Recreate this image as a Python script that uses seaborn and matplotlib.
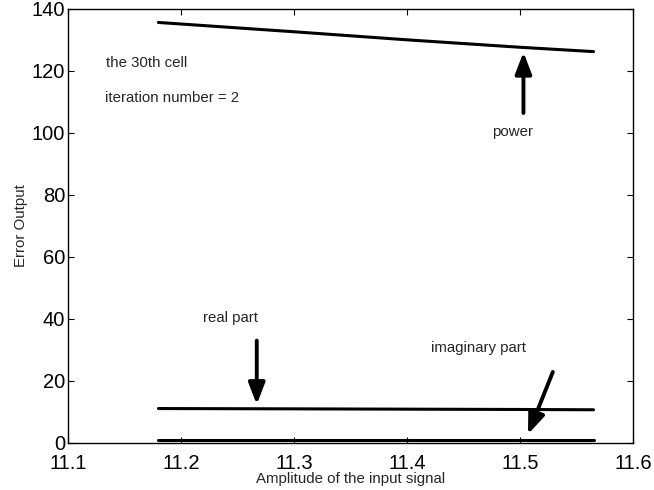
import matplotlib
matplotlib.use("Agg")
import matplotlib.pyplot as plt
import seaborn as sns
import pandas as pd

# data
power_x = [11.18, 11.30, 11.40, 11.50, 11.565]
power_y = [135.6, 132.6, 130.0, 127.6, 126.2]
real_x = [11.18, 11.30, 11.40, 11.50, 11.565]
real_y = [11.1, 11.0, 10.9, 10.8, 10.7]
imag_x = [11.18, 11.30, 11.40, 11.50, 11.565]
imag_y = [1.1, 1.1, 1.1, 1.1, 1.1]

x_ticks = [11.1, 11.2, 11.3, 11.4, 11.5, 11.6]
y_ticks = [0, 20, 40, 60, 80, 100, 120, 140]

sns.set_theme(style="ticks")
plt.rcParams['font.family'] = ['Liberation Sans', 'DejaVu Sans']

fig = plt.figure(figsize=(6.54, 4.90), dpi=100)
ax = fig.add_axes([0.104, 0.096, 0.864, 0.886])

df = pd.concat([
    pd.DataFrame({"x": power_x, "y": power_y, "s": "power"}),
    pd.DataFrame({"x": real_x, "y": real_y, "s": "real"}),
    pd.DataFrame({"x": imag_x, "y": imag_y, "s": "imag"}),
])
sns.lineplot(data=df, x="x", y="y", units="s", estimator=None, color="black",
             linewidth=2.2, ax=ax, legend=False)

ax.set_xlim(11.1, 11.6)
ax.set_ylim(0, 140)
ax.set_xticks(x_ticks)
ax.set_yticks(y_ticks)
ax.set_xticklabels([f"{v:.1f}" for v in x_ticks], fontsize=14.5)
ax.set_yticklabels([str(v) for v in y_ticks], fontsize=14.5)
ax.tick_params(direction="in", top=True, right=True, length=4, width=0.8,
               colors="black")
ax.tick_params(axis="x", pad=8)
ax.tick_params(axis="y", pad=2)
for s in ax.spines.values():
    s.set_visible(True)
    s.set_color("black")
    s.set_linewidth(1.0)
ax.set_xlabel("Amplitude of the input signal", fontsize=10.8, labelpad=-1)
ax.set_ylabel("Error Output", fontsize=10.8, labelpad=3)

fs = 10.8
ax.text(11.134, 122.6, "the 30th cell", fontsize=fs, va="center", ha="left")
ax.text(11.133, 111.3, "iteration number = 2", fontsize=fs, va="center", ha="left")
ax.text(11.493, 100.3, "power", fontsize=fs, va="center", ha="center")
ax.text(11.244, 40.3, "real part", fontsize=fs, va="center", ha="center")
ax.text(11.463, 30.6, "imaginary part", fontsize=fs, va="center", ha="center")

arrow = dict(arrowstyle="-|>,head_length=0.65,head_width=0.25", color="black", lw=2.8,
             shrinkA=0, shrinkB=0, mutation_scale=20)
ax.annotate("", xy=(11.503, 126.0), xytext=(11.503, 106.4), arrowprops=arrow)
ax.annotate("", xy=(11.267, 12.4), xytext=(11.267, 33.0), arrowprops=arrow)
ax.annotate("", xy=(11.507, 2.8), xytext=(11.529, 22.9), arrowprops=arrow)

fig.savefig("out.png", dpi=100)
